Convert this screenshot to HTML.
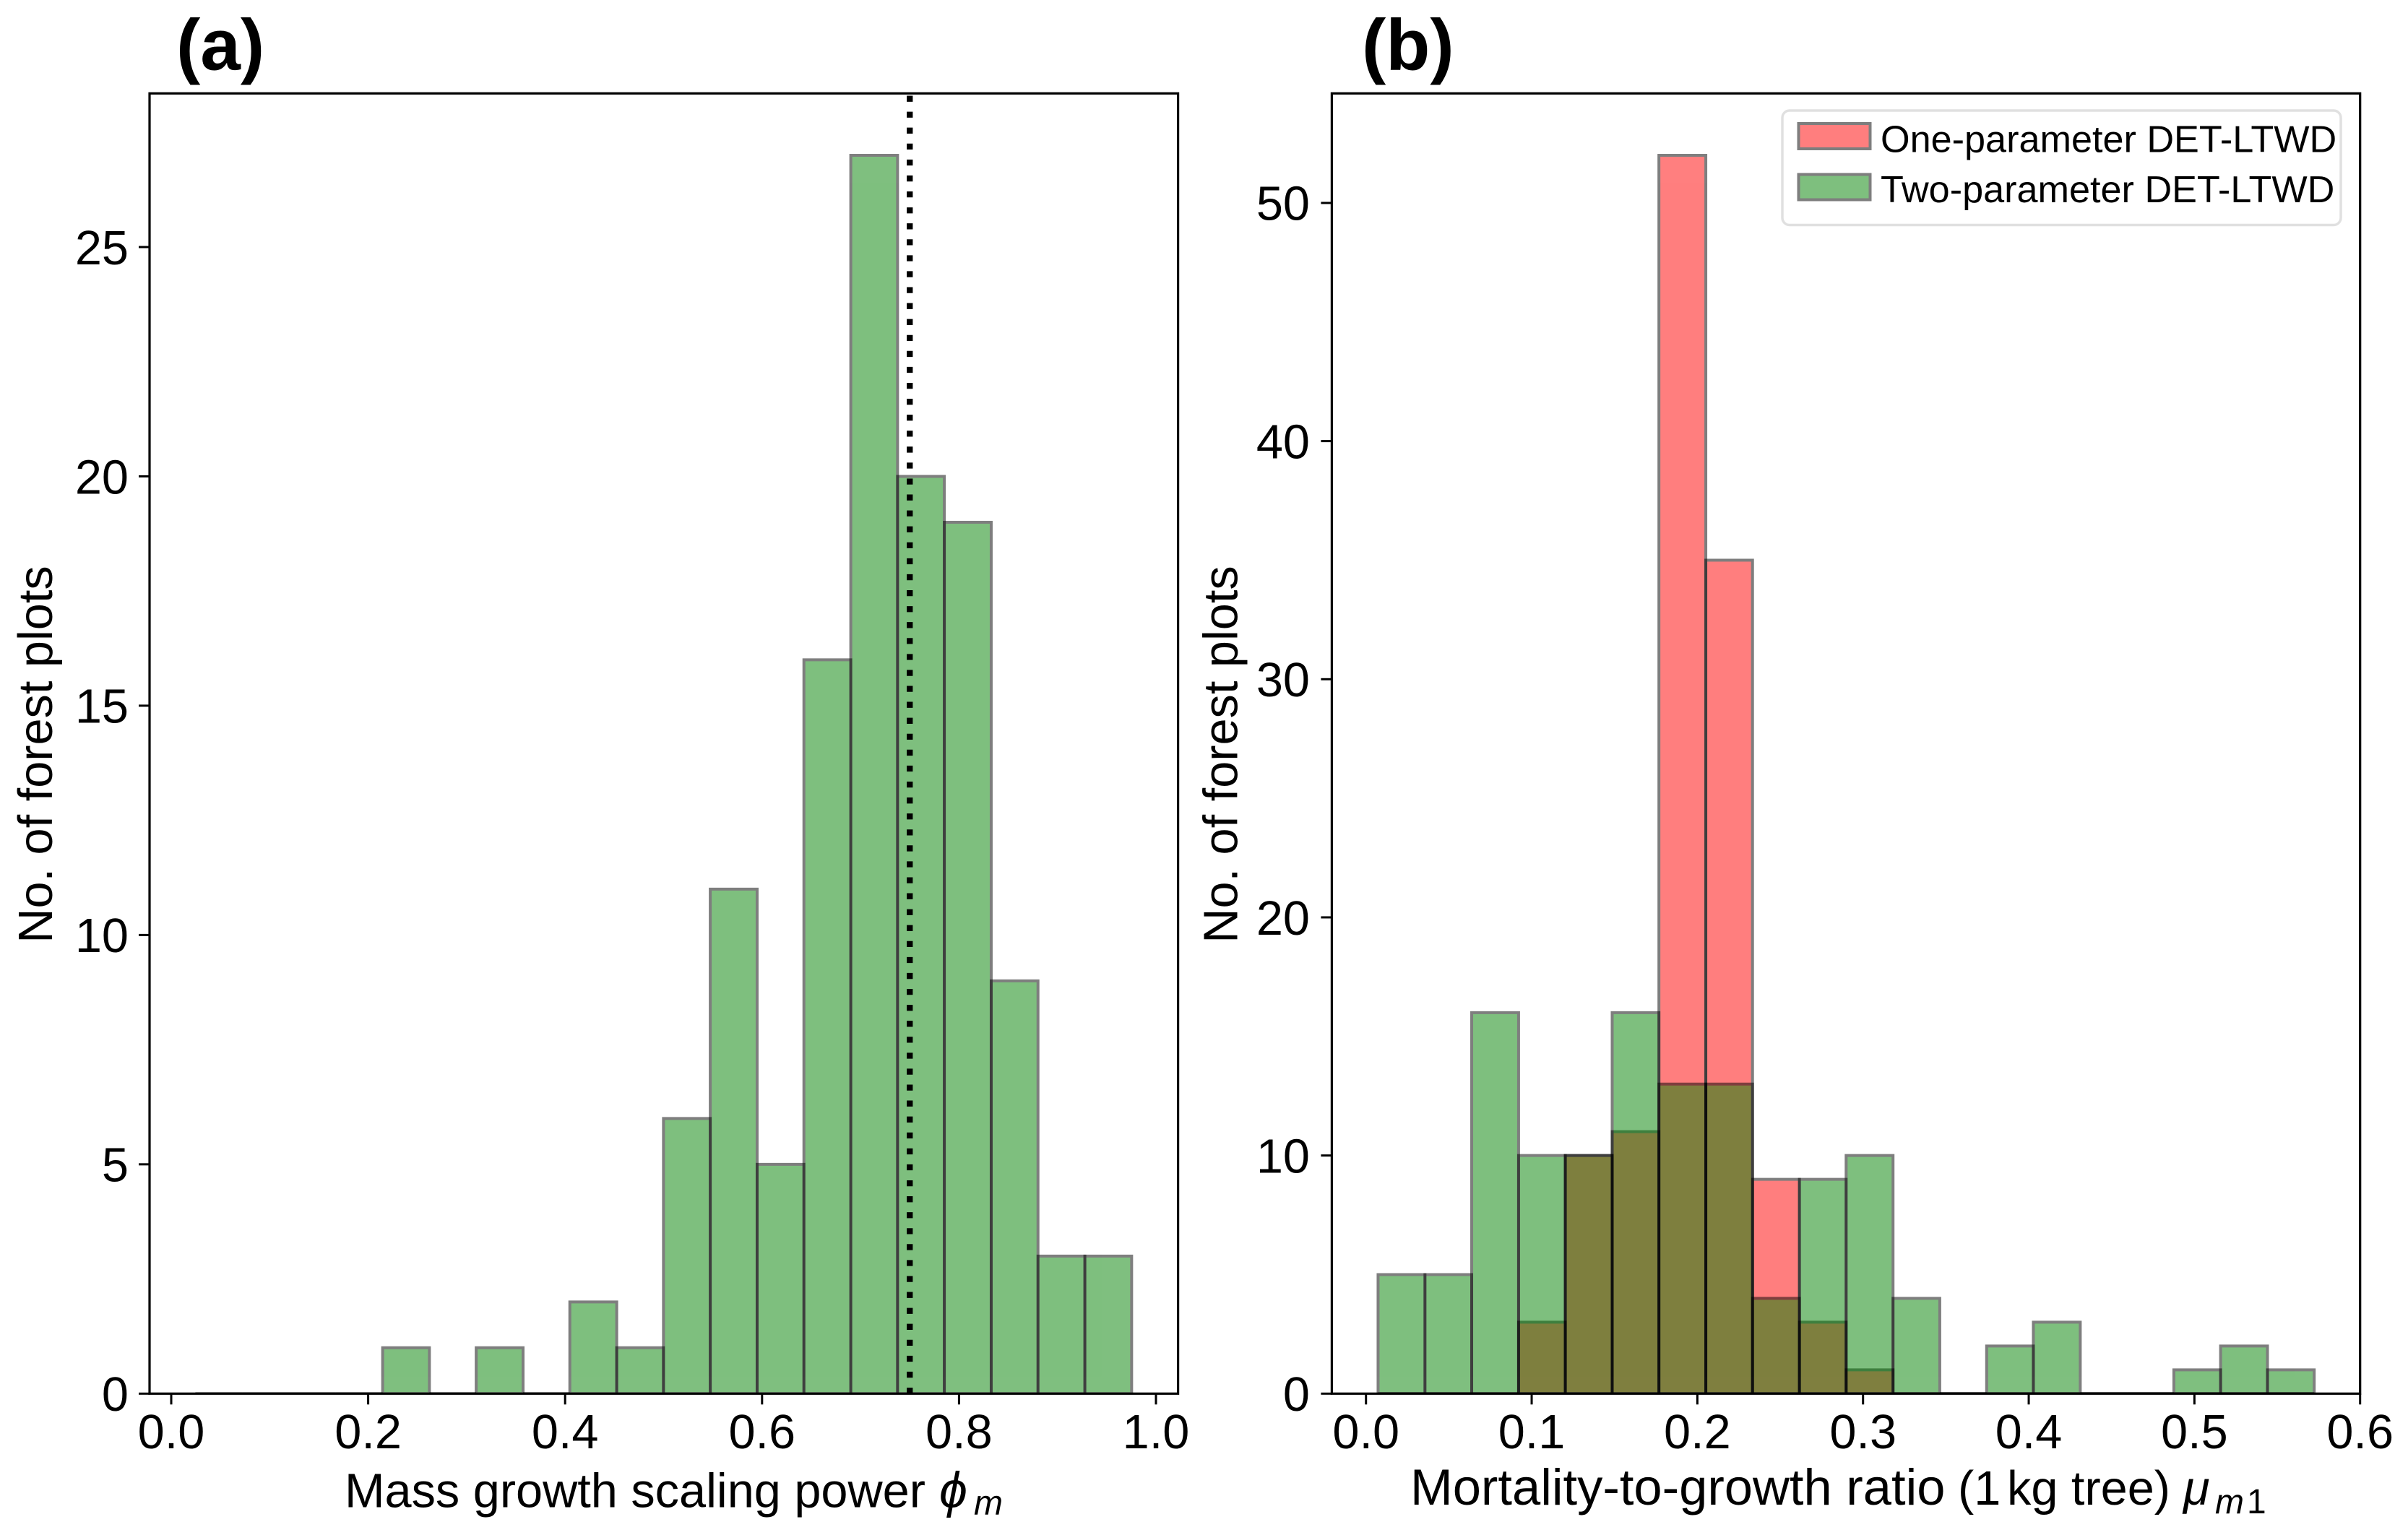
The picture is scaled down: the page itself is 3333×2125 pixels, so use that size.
<!DOCTYPE html>
<html lang="en">
<head>
<meta charset="utf-8">
<title>Histograms of mass growth scaling power and mortality-to-growth ratio</title>
<style>
html,body{margin:0;padding:0;background:#fff;}
svg{display:block;}
text{font-family:"Liberation Sans",Arial,sans-serif;fill:#000;}
.label{font-size:66.67px;}
.panel{font-size:100px;font-weight:bold;}
.leg{font-size:52.2px;}
.it{font-style:italic;}
.sub{font-size:48px;}
</style>
</head>
<body>
<svg id="figure" xmlns="http://www.w3.org/2000/svg" width="3333" height="2125" viewBox="0 0 3333 2125">
<defs>
<clipPath id="clip-a"><rect x="207" y="129.3" width="1423.6" height="1800"/></clipPath>
<clipPath id="clip-b"><rect x="1843.4" y="129.3" width="1423.3" height="1800"/></clipPath>
</defs>
<rect x="0" y="0" width="3333" height="2125" fill="#fff"/>

<g id="bars-a" clip-path="url(#clip-a)"></g>
<line id="ref-line" stroke="#000" stroke-width="8.3" stroke-dasharray="8.3 13.78" clip-path="url(#clip-a)"/>
<g id="bars-b-red" clip-path="url(#clip-b)"></g>
<g id="bars-b-green" clip-path="url(#clip-b)"></g>

<g id="ticks-a"></g>
<g id="ticks-b"></g>

<rect x="207" y="129.3" width="1423.6" height="1800" fill="none" stroke="#000" stroke-width="3.2"/>
<rect x="1843.4" y="129.3" width="1423.3" height="1800" fill="none" stroke="#000" stroke-width="3.2"/>

<text class="panel" x="244" y="96.5">(a)</text>
<text class="panel" x="1885" y="96.5">(b)</text>

<text class="label" text-anchor="middle" transform="translate(72 1044.5) rotate(-90)">No. of forest plots</text>
<text class="label" text-anchor="middle" transform="translate(1712.7 1044.5) rotate(-90)">No. of forest plots</text>

<text class="label" x="477" y="2086.7">Mass growth scaling power <tspan class="it" x="1300" font-size="70">ϕ</tspan><tspan class="it sub" x="1348" dy="10">m</tspan></text>
<text class="label" x="1952" y="2083"><tspan font-size="70.5">Mortality-to-growth ratio </tspan><tspan x="2710">(1</tspan><tspan x="2778">kg tree)</tspan><tspan class="it" x="3022">μ</tspan><tspan class="it sub" x="3066" dy="12">m</tspan><tspan class="sub" x="3110">1</tspan></text>

<g>
<rect x="2467" y="153" width="773" height="158.5" rx="10" ry="10" fill="#fff" fill-opacity="0.8" stroke="#e0e0e0" stroke-width="3.5"/>
<g>
<rect x="2489.5" y="171" width="99" height="35" fill="#f00" stroke="#000" stroke-width="4" opacity="0.5"/>
<text class="leg" x="2603" y="210.5">One-parameter DET-LTWD</text>
</g>
<g>
<rect x="2489.5" y="241.5" width="99" height="35" fill="#008000" stroke="#000" stroke-width="4" opacity="0.5"/>
<text class="leg" x="2603" y="280">Two-parameter DET-LTWD</text>
</g>
</g>
</svg>

<script>
var binEdgesA = [0.0245,0.0720,0.1196,0.1671,0.2147,0.2622,0.3097,0.3573,0.4048,0.4524,0.4999,0.5474,0.5950,0.6425,0.6901,0.7376,0.7851,0.8327,0.8802,0.9278,0.9753];
var countsA = [0,0,0,0,1,0,1,0,2,1,6,11,5,16,27,20,19,9,3,3];
var binEdgesB = [0.0073,0.0356,0.0638,0.0921,0.1203,0.1486,0.1768,0.2051,0.2333,0.2616,0.2898,0.3181,0.3463,0.3746,0.4028,0.4311,0.4593,0.4876,0.5158,0.5441,0.5723];
var countsOneParam = [0,0,0,3,10,11,52,35,9,3,1,0,0,0,0,0,0,0,0,0];
var countsTwoParam = [5,5,16,10,10,16,13,13,4,9,10,4,0,2,3,0,0,1,2,1];
var refValue = [0.75];
var xTicksA = ["0.0","0.2","0.4","0.6","0.8","1.0"];
var yTicksA = ["0","5","10","15","20","25"];
var xTicksB = ["0.0","0.1","0.2","0.3","0.4","0.5","0.6"];
var yTicksB = ["0","10","20","30","40","50"];
var xDomainA = [-0.0220,1.02245];
var xDomainB = [-0.02063,0.6];
var yDomainA = [0,28.35];
var yDomainB = [0,54.6];

var SVGNS = "http://www.w3.org/2000/svg";
var TOP = 129.3, BOTTOM = 1929.3;

function scale(domain, r0, r1) {
  return function (v) {
    return r0 + (v - domain[0]) / (domain[1] - domain[0]) * (r1 - r0);
  };
}
var xA = scale(xDomainA, 207, 1630.6);
var yA = scale(yDomainA, BOTTOM, TOP);
var xB = scale(xDomainB, 1843.4, 3266.7);
var yB = scale(yDomainB, BOTTOM, TOP);

function drawBars(groupId, edges, counts, x, y, fill, prefix) {
  var g = document.getElementById(groupId);
  for (var i = 0; i < counts.length; i++) {
    var p = document.createElementNS(SVGNS, "path");
    var x0 = x(edges[i]), x1 = x(edges[i + 1]), y0 = y(0), y1 = y(counts[i]);
    p.setAttribute("d", "M" + x0 + " " + y0 + "V" + y1 + "H" + x1 + "V" + y0 + "Z");
    p.setAttribute("fill", fill);
    p.setAttribute("stroke", "#000");
    p.setAttribute("stroke-width", "4");
    p.setAttribute("opacity", "0.5");
    
    
    g.appendChild(p);
  }
}

function drawTicks(groupId, xTicks, yTicks, x, y, yRightAnchor, leftSpine, prefix) {
  var g = document.getElementById(groupId);
  xTicks.forEach(function (t) {
    var px = x(parseFloat(t));
    var l = document.createElementNS(SVGNS, "line");
    l.setAttribute("x1", px);
    l.setAttribute("x2", px);
    l.setAttribute("y1", BOTTOM);
    l.setAttribute("y2", BOTTOM + 15);
    l.setAttribute("stroke", "#000");
    l.setAttribute("stroke-width", "3");
    
    
    g.appendChild(l);
    var s = document.createElementNS(SVGNS, "text");
    s.setAttribute("class", "label");
    s.setAttribute("x", px);
    s.setAttribute("y", 2005);
    s.setAttribute("text-anchor", "middle");
    
    
    s.textContent = t;
    g.appendChild(s);
  });
  yTicks.forEach(function (t) {
    var py = y(parseFloat(t));
    var l = document.createElementNS(SVGNS, "line");
    l.setAttribute("x1", leftSpine - 15);
    l.setAttribute("x2", leftSpine);
    l.setAttribute("y1", py);
    l.setAttribute("y2", py);
    l.setAttribute("stroke", "#000");
    l.setAttribute("stroke-width", "3");
    
    
    g.appendChild(l);
    var s = document.createElementNS(SVGNS, "text");
    s.setAttribute("class", "label");
    s.setAttribute("x", yRightAnchor);
    s.setAttribute("y", py + 23.8);
    s.setAttribute("text-anchor", "end");
    
    
    s.textContent = t;
    g.appendChild(s);
  });
}

drawBars("bars-a", binEdgesA, countsA, xA, yA, "#008000", "panel-a");
drawBars("bars-b-red", binEdgesB, countsOneParam, xB, yB, "#f00", "one-parameter");
drawBars("bars-b-green", binEdgesB, countsTwoParam, xB, yB, "#008000", "two-parameter");
drawTicks("ticks-a", xTicksA, yTicksA, xA, yA, 178, 207, "panel-a");
drawTicks("ticks-b", xTicksB, yTicksB, xB, yB, 1813, 1843.4, "panel-b");

var ref = document.getElementById("ref-line");
ref.setAttribute("x1", xA(refValue[0]));
ref.setAttribute("x2", xA(refValue[0]));
ref.setAttribute("y1", yA(yDomainA[0]));
ref.setAttribute("y2", yA(yDomainA[1]));
</script>
</body>
</html>
